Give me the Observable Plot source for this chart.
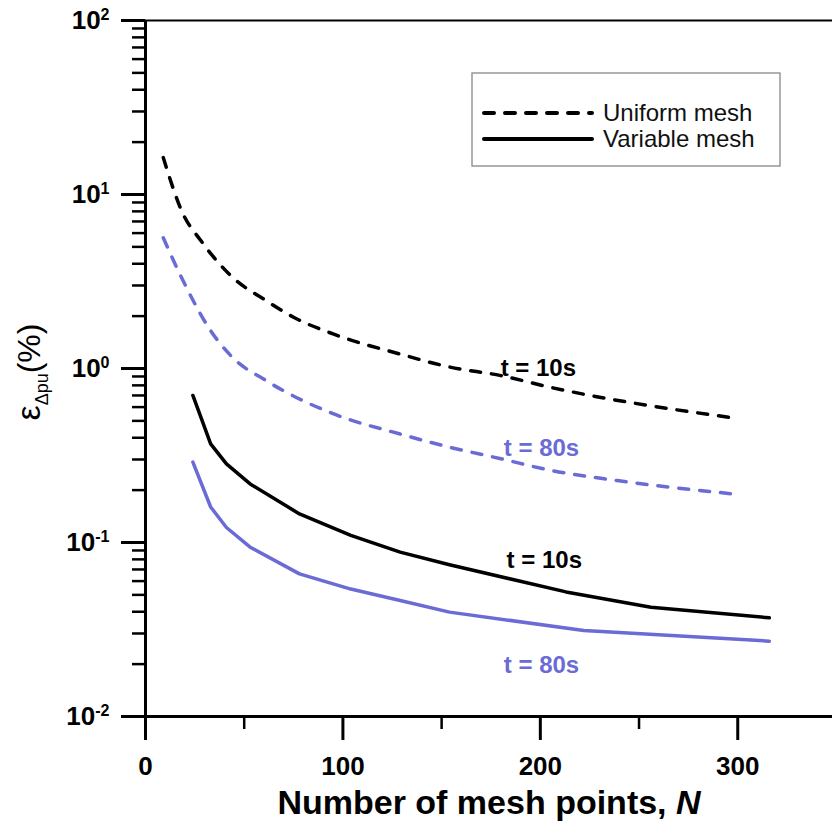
<!DOCTYPE html>
<html><head><meta charset="utf-8">
<script src="https://cdn.jsdelivr.net/npm/d3@7"></script>
<script src="https://cdn.jsdelivr.net/npm/@observablehq/plot@0.6"></script>
<style>body{margin:0;background:#fff}</style>
</head><body><div id="chart"></div>
<script>
const BLUE = "#6b6bd6";

// Uniform mesh, t = 10s (black dashed)
const uniform10N = [9, 19, 28, 44, 61, 75, 95, 129, 154, 180, 205, 230, 256, 298];
const uniform10V = [16.3, 7.74, 5.44, 3.35, 2.46, 1.97, 1.58, 1.21, 1.02, 0.91, 0.78, 0.684, 0.61, 0.52];
// Uniform mesh, t = 80s (blue dashed)
const uniform80N = [9, 19, 33, 44, 61, 95, 129, 154, 180, 205, 239, 298];
const uniform80V = [5.64, 3.2, 1.65, 1.16, 0.853, 0.55, 0.42, 0.353, 0.303, 0.26, 0.227, 0.19];
// Variable mesh, t = 10s (black solid)
const variable10N = [24, 33, 41, 53, 78, 104, 129, 154, 213, 256, 316];
const variable10V = [0.70, 0.369, 0.283, 0.217, 0.146, 0.110, 0.088, 0.0745, 0.052, 0.0425, 0.0369];
// Variable mesh, t = 80s (blue solid)
const variable80N = [24, 33, 41, 53, 78, 104, 129, 154, 222, 316];
const variable80V = [0.29, 0.16, 0.122, 0.094, 0.066, 0.054, 0.0464, 0.0398, 0.0312, 0.0271];

// Annotations
const labelText = ["t = 10s", "t = 80s", "t = 10s", "t = 80s"];
const labelN = [199, 200.6, 202, 200.6];
const labelV = [1.0, 0.347, 0.0788, 0.0196];
const labelColor = ["black", BLUE, "black", BLUE];

// Axes
const xDomain = [0, 348];
const yDomain = [0.01, 100];
const xMajor = [0, 100, 200, 300];
const xMinor = [50, 150, 250];
const yDecades = [0.01, 0.1, 1, 10, 100];
const yExponents = ["-2", "-1", "0", "1", "2"];
const yMinor = [];
for (const d of [0.01, 0.1, 1, 10]) for (let k = 2; k <= 9; k++) yMinor.push(+(d * k).toPrecision(3));

const legendNames = ["Uniform mesh", "Variable mesh"];
const legendDash = ["10,11", null];

const table = (Ns, Vs) => Ns.map((N, i) => ({N, v: Vs[i]}));
const u10 = table(uniform10N, uniform10V);
const u80 = table(uniform80N, uniform80V);
const v10 = table(variable10N, variable10V);
const v80 = table(variable80N, variable80V);
const labels = labelText.map((t, i) => ({t, N: labelN[i], v: labelV[i], c: labelColor[i]}));

function legend(index, scales, values, dims) {
  const g = d3.create("svg:g");
  const bx = dims.width - 360, by = 73, bw = 308, bh = 93;
  g.append("rect").attr("x", bx).attr("y", by).attr("width", bw).attr("height", bh)
    .attr("fill", "white").attr("stroke", "#888").attr("stroke-width", 1.3);
  legendNames.forEach((name, i) => {
    const y = by + 40 + i * 26;
    g.append("line").attr("x1", bx + 12).attr("x2", bx + 120).attr("y1", y).attr("y2", y)
      .attr("stroke", "black").attr("stroke-width", 4)
      .attr("stroke-linecap", "round")
      .attr("stroke-dasharray", legendDash[i]);
    g.append("text").attr("x", bx + 131).attr("y", y).attr("dy", "0.35em")
      .attr("text-anchor", "start")
      .attr("font-size", 24).attr("fill", "#111").text(name);
  });
  return g.node();
}

const dashed = {strokeWidth: 3.5, strokeDasharray: "10,11", strokeLinecap: "round", curve: "monotone-x"};

const chart = Plot.plot({
  width: 832,
  height: 826,
  marginLeft: 145,
  marginRight: 0,
  marginTop: 20,
  marginBottom: 110,
  style: {fontFamily: "'Liberation Sans', Arial, sans-serif", background: "white", color: "black"},
  x: {domain: xDomain},
  y: {type: "log", domain: yDomain},
  color: {type: "identity"},
  marks: [
    Plot.axisY({ticks: yDecades, tickSize: 24, strokeWidth: 3, fill: "none", label: null}),
    Plot.axisY({ticks: yMinor, tickSize: 13, strokeWidth: 2.5, fill: "none", label: null}),
    Plot.axisX({ticks: xMajor, tickSize: 24, strokeWidth: 3, tickPadding: 16, fontSize: 26, fontWeight: "bold", tickFormat: d => String(d), label: null}),
    Plot.axisX({ticks: xMinor, tickSize: 13, strokeWidth: 2.5, fill: "none", label: null}),
    Plot.text(yDecades, {y: d => d, frameAnchor: "left", text: () => "10", textAnchor: "end", dx: -36, fontSize: 26, fontWeight: "bold"}),
    Plot.text(["ε"], {frameAnchor: "left", dx: -116, dy: 52, rotate: -90, textAnchor: "start", text: d => d, fontSize: 34}),
    Plot.text(["Number of mesh points, "], {frameAnchor: "bottom", dy: 97, text: d => d, fontSize: 34, fontWeight: "bold"}),
    Plot.line(u10, {x: "N", y: "v", stroke: "black", ...dashed}),
    Plot.line(u80, {x: "N", y: "v", stroke: BLUE, ...dashed}),
    Plot.line(v10, {x: "N", y: "v", stroke: "black", strokeWidth: 3.5, curve: "linear"}),
    Plot.line(v80, {x: "N", y: "v", stroke: BLUE, strokeWidth: 3.5, curve: "linear"}),
    Plot.text(labels, {x: "N", y: "v", text: "t", fill: "c", fontSize: 24, fontWeight: "bold"}),
    Plot.ruleX([xDomain[0]], {strokeWidth: 3}),
    Plot.ruleY([yDomain[0]], {strokeWidth: 3}),
    Plot.ruleY([yDomain[1]], {strokeWidth: 2}),
    legend
  ]
});

const allText = Array.from(chart.querySelectorAll("text"));
// superscript exponents on decade labels (ordered by vertical position, bottom to top)
const decTexts = allText.filter(t => t.textContent === "10");
const ypos = t => {
  const tr = t.getAttribute("transform");
  if (tr) { const m = tr.match(/translate\(\s*([-\d.]+)[ ,]+([-\d.]+)/); if (m) return +m[2]; }
  return +(t.getAttribute("y") || 0);
};
decTexts.sort((a, b) => ypos(b) - ypos(a));
decTexts.forEach((t, i) => {
  d3.select(t).append("tspan").attr("dy", "-0.55em").attr("font-size", 16).text(yExponents[i]);
});
// y-axis title subscript
allText.filter(t => t.textContent === "ε").forEach(t => {
  const s = d3.select(t);
  s.append("tspan").attr("dy", 8).attr("font-size", 18).text("Δpu");
  s.append("tspan").attr("dy", -8).attr("font-size", 32).text("(%)");
});
// x-axis title italic N
allText.filter(t => t.textContent === "Number of mesh points, ").forEach(t => {
  d3.select(t).append("tspan").attr("font-style", "italic").text("N");
});

document.getElementById("chart").appendChild(chart);
</script>
</body></html>
